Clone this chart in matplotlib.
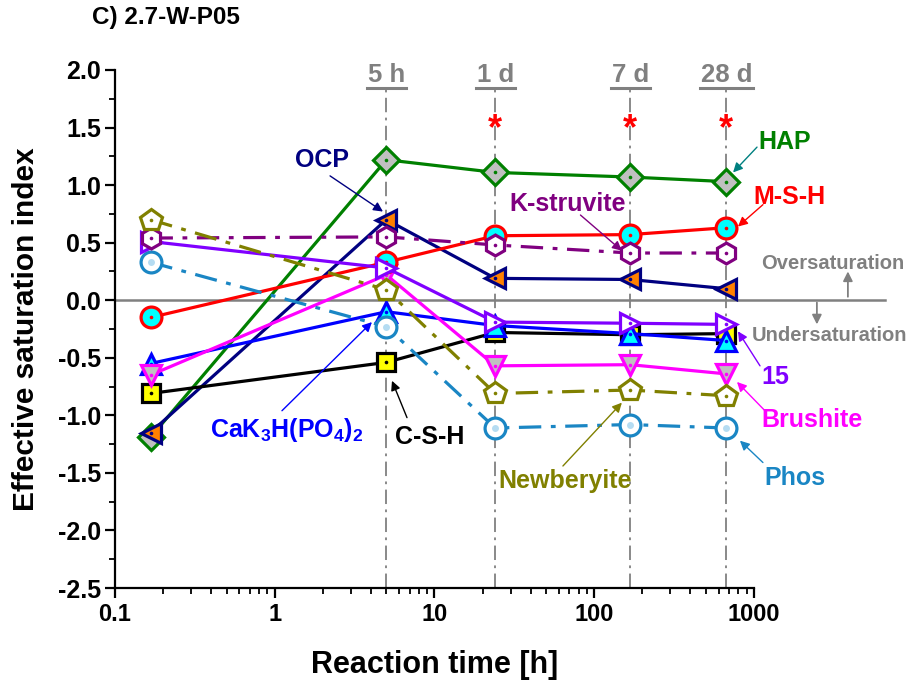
import matplotlib
matplotlib.use('Agg')
import matplotlib.pyplot as plt
import matplotlib.transforms as mtransforms
from matplotlib.lines import Line2D
from matplotlib.ticker import FixedLocator, MultipleLocator, FormatStrFormatter, NullFormatter

plt.rcParams['font.family'] = ['Liberation Sans', 'DejaVu Sans']
plt.rcParams['font.weight'] = 'bold'
plt.rcParams['mathtext.fontset'] = 'custom'
plt.rcParams['mathtext.bf'] = 'Liberation Sans:bold'
plt.rcParams['mathtext.rm'] = 'Liberation Sans:bold'

# Sampling times (h)
time_h = [0.167, 5, 24, 168, 672]

# Effective saturation index of each phase
hap = [-1.19, 1.22, 1.11, 1.07, 1.03]
msh = [-0.15, 0.33, 0.56, 0.57, 0.63]
k_struvite = [0.54, 0.55, 0.48, 0.41, 0.41]
ocp = [-1.15, 0.70, 0.19, 0.18, 0.10]
phase15 = [0.51, 0.28, -0.19, -0.20, -0.21]
cak3h = [-0.55, -0.10, -0.22, -0.29, -0.35]
brushite = [-0.65, 0.22, -0.57, -0.56, -0.64]
csh = [-0.81, -0.54, -0.28, -0.30, -0.29]
newberyite = [0.70, 0.09, -0.81, -0.78, -0.83]
phos = [0.33, -0.23, -1.11, -1.08, -1.11]

# Reference ages marked by vertical lines
age_times = [5, 24, 168, 672]
age_labels = ['5 h', '1 d', '7 d', '28 d']
star_times = [24, 168, 672]

x_ticks = [0.1, 1, 10, 100, 1000]
x_tick_labels = ['0.1', '1', '10', '100', '1000']

fig = plt.figure(figsize=(9.14, 6.82), dpi=100)
ax = fig.add_axes([0.1258, 0.1378, 0.6991, 0.7596])

dash_dot = (0, (7, 3, 1.5, 3))

series = [
    # values, edge/line colour, face colour, marker, size, linestyle
    (hap, '#008000', '#c0c0c0', 'D', 13, '-'),
    (ocp, '#000080', '#ff8000', '<', 14, '-'),
    (csh, '#000000', '#ffff00', 's', 13, '-'),
    (cak3h, '#0000ff', '#00ffff', '^', 14, '-'),
    (brushite, '#ff00ff', '#c0c0c0', 'v', 15, '-'),
    (msh, '#ff0000', '#00ffff', 'o', 15, '-'),
    (phos, '#1a86c4', '#ffffff', 'o', 15, dash_dot),
    (phase15, '#8000ff', '#ffffff', '>', 15, '-'),
    (k_struvite, '#800080', '#ffffff', 'h', 15, dash_dot),
    (newberyite, '#808000', '#ffffff', 'p', 16, dash_dot),
]

# vertical reference lines
for t in age_times:
    ax.plot([t, t], [-2.5, 1.83], color='#808080', lw=1.3,
            linestyle=(0, (8, 3, 1.5, 3)), zorder=1, clip_on=False)

z = 3
for vals, ec, fc, mk, ms, ls in series:
    ax.plot(time_h, vals, color=ec, lw=2.3, linestyle=ls, marker=mk,
            markersize=ms, markerfacecolor=fc, markeredgecolor=ec,
            markeredgewidth=2.3, zorder=z, clip_on=False)
    if ec == '#1a86c4':
        ax.plot(time_h, vals, linestyle='none', marker='o', markersize=5,
                color='#b5dcf2', markeredgewidth=0, zorder=z + 0.5, clip_on=False)
    else:
        ax.plot(time_h, vals, linestyle='none', marker='o', markersize=2.6,
                color=ec, markeredgewidth=0, zorder=z + 0.5, clip_on=False)
    z += 1

ax.set_xscale('log')
ax.set_xlim(0.1, 1000)
ax.set_ylim(-2.5, 2.0)

# zero line extended to the right of the axes
blend = mtransforms.blended_transform_factory(ax.transAxes, ax.transData)
ax.plot([0, 1.205], [0, 0], transform=blend, color='#808080', lw=1.8,
        zorder=2, clip_on=False)

for side in ['top', 'right']:
    ax.spines[side].set_visible(False)
for side in ['left', 'bottom']:
    ax.spines[side].set_linewidth(1.6)

ax.xaxis.set_major_locator(FixedLocator(x_ticks))
ax.set_xticklabels(x_tick_labels)
ax.xaxis.set_minor_formatter(NullFormatter())
ax.yaxis.set_major_locator(MultipleLocator(0.5))
ax.yaxis.set_minor_locator(MultipleLocator(0.25))
ax.yaxis.set_major_formatter(FormatStrFormatter('%.1f'))
ax.tick_params(which='major', direction='out', length=7, width=1.6, pad=4)
ax.tick_params(axis='x', which='major', labelsize=17)
ax.tick_params(axis='y', which='major', labelsize=18, pad=3)
ax.tick_params(which='minor', direction='out', length=4, width=1.3)

ax.set_xlabel('Reaction time [h]', fontsize=22, fontweight='bold', labelpad=17)
ax.set_ylabel('Effective saturation index', fontsize=21.5, fontweight='bold', labelpad=13)

fig.text(0.1007, 0.9745, 'C) 2.7-W-P05', fontsize=17.5, fontweight='bold',
         ha='left', va='center')

# age labels (underlined) and significance stars
gray = '#808080'
age_texts = []
for t, lab in zip(age_times, age_labels):
    tx = ax.text(t, 1.955, lab, color=gray, fontsize=18.5, fontweight='bold',
                 ha='center', va='center', clip_on=False)
    age_texts.append(tx)
for t in star_times:
    ax.text(t, 1.48, '*', color='#ff0000', fontsize=26, fontweight='bold',
            ha='center', va='center', clip_on=False)


def label(text, xy_text, color, fs=18):
    ax.text(xy_text[0], xy_text[1], text, color=color, fontsize=fs,
            fontweight='bold', ha='center', va='center', clip_on=False, zorder=20)


def arrow(tail, tip, color, lw=1.0):
    ax.annotate('', xy=tip, xytext=tail,
                arrowprops=dict(arrowstyle='-|>', color=color, lw=lw,
                                mutation_scale=14, shrinkA=0, shrinkB=0),
                annotation_clip=False, zorder=20)


label('OCP', (1.98, 1.22), '#000080')
arrow((2.22, 1.08), (4.76, 0.77), '#000080')

label('HAP', (1563, 1.37), '#008000')
arrow((1045, 1.33), (740, 1.11), '#008080')

label('M-S-H', (1656, 0.90), '#ff0000')
arrow((1138, 0.83), (794, 0.64), '#ff0000')

label('K-struvite', (68.5, 0.84), '#800080')
arrow((82, 0.74), (149, 0.43), '#800080')

label('15', (1353, -0.67), '#8000ff')
arrow((1091, -0.57), (794, -0.27), '#8000ff')

label('Brushite', (2306, -1.04), '#ff00ff')
arrow((1172, -0.96), (783, -0.71), '#ff00ff')

label('Phos', (1806, -1.54), '#1a86c4')
arrow((1138, -1.41), (817, -1.22), '#1a86c4')

label('Newberyite', (65.6, -1.57), '#808000')
arrow((63.7, -1.44), (149, -0.89), '#808000')

label('C-S-H', (9.37, -1.19), '#000000')
arrow((6.73, -1.02), (5.42, -0.70), '#000000')

label(r'CaK$_\mathbf{3}$H(PO$_\mathbf{4}$)$_\mathbf{2}$', (1.19, -1.13), '#0000ff')
arrow((1.11, -0.96), (4.06, -0.19), '#0000ff')

# saturation direction hints
ax.text(3119, 0.32, 'Oversaturation', color=gray, fontsize=14.5,
        fontweight='bold', ha='center', va='center', clip_on=False)
arrow((3873, 0.03), (3873, 0.25), gray, lw=1.3)
ax.text(2990, -0.31, 'Undersaturation', color=gray, fontsize=14.5,
        fontweight='bold', ha='center', va='center', clip_on=False)
arrow((2477, -0.02), (2477, -0.21), gray, lw=1.3)

# underline the age labels
fig.canvas.draw()
renderer = fig.canvas.get_renderer()
for tx in age_texts:
    bb = tx.get_window_extent(renderer)
    y = bb.y0 - 1
    fig.add_artist(Line2D([bb.x0 - 1, bb.x1 + 1], [y, y], color=gray, lw=2.2,
                          transform=None))

fig.savefig('out.png', dpi=100)
